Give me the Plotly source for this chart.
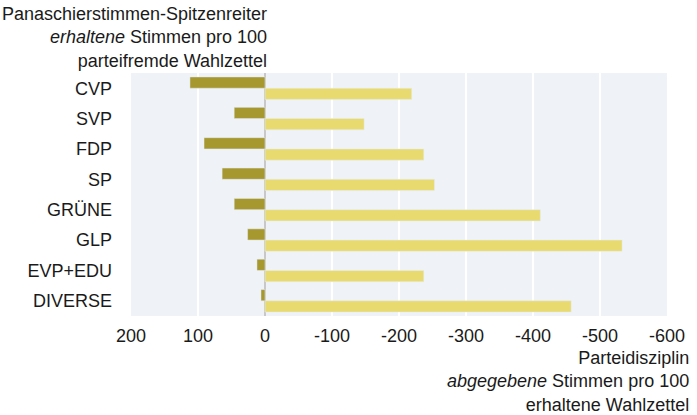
from plotly import graph_objects as go

# Parteien
parteien = ["CVP", "SVP", "FDP", "SP", "GRÜNE", "GLP", "EVP+EDU", "DIVERSE"]

# erhaltene Stimmen pro 100 parteifremde Wahlzettel
erhaltene = [112, 46, 91, 64, 46, 26, 12, 6]

# abgegebene Stimmen pro 100 erhaltene Wahlzettel (negativ)
abgegebene = [-219, -148, -237, -253, -411, -533, -237, -457]

x_ticks = [200, 100, 0, -100, -200, -300, -400, -500, -600]

font_name = "Liberation Sans, Arial, sans-serif"

fig = go.Figure(
    data=[
        go.Bar(
            y=parteien,
            x=erhaltene,
            orientation="h",
            marker_color="#a6972e",
            name="erhaltene",
        ),
        go.Bar(
            y=parteien,
            x=abgegebene,
            orientation="h",
            marker_color="#e8da6f",
            name="abgegebene",
        ),
    ],
    layout=go.Layout(
        width=697,
        height=415,
        margin=dict(l=131, r=27, t=73, b=99),
        barmode="group",
        bargap=0.26,
        bargroupgap=0,
        showlegend=False,
        plot_bgcolor="#eff3f8",
        paper_bgcolor="white",
        font=dict(family=font_name, size=18, color="#1a1a1a"),
        xaxis=dict(
            range=[200, -600],
            tickvals=x_ticks,
            ticktext=[str(v) for v in x_ticks],
            showgrid=True,
            gridcolor="white",
            gridwidth=1.5,
            zeroline=True,
            zerolinecolor="#c8c8c8",
            zerolinewidth=1.5,
            ticklabelstandoff=7,
            fixedrange=True,
        ),
        yaxis=dict(
            autorange="reversed",
            showgrid=False,
            ticklabelstandoff=18,
            fixedrange=True,
        ),
        annotations=[
            dict(
                text="Panaschierstimmen-Spitzenreiter<br><i>erhaltene</i> Stimmen pro 100<br>parteifremde Wahlzettel",
                xref="paper", yref="paper",
                x=(270 - 131) / 539, y=1,
                xanchor="right", yanchor="bottom",
                align="right",
                showarrow=False,
                yshift=0,
            ),
            dict(
                text="Parteidisziplin<br><i>abgegebene</i> Stimmen pro 100<br>erhaltene Wahlzettel",
                xref="paper", yref="paper",
                x=1, y=0,
                xanchor="right", yanchor="top",
                align="right",
                showarrow=False,
                xshift=24,
                yshift=-30,
            ),
        ],
    ),
)

fig.write_html(
    "out.html",
    config={"displayModeBar": False},
    post_script="document.body.style.margin='0';document.body.style.overflow='hidden';",
)
